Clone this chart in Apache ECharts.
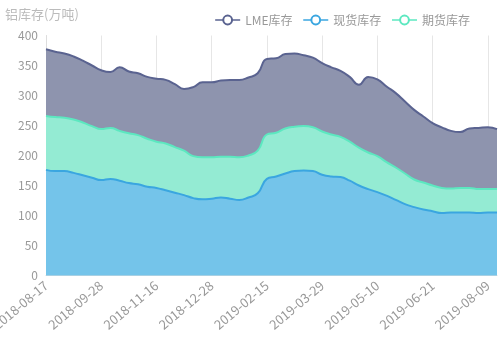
<!DOCTYPE html>
<html>
<head>
<meta charset="utf-8">
<script src="https://cdn.jsdelivr.net/npm/echarts@6/dist/echarts.min.js"></script>
<style>html,body{margin:0;padding:0;background:#fff}#c{width:500px;height:341px}</style>
</head>
<body>
<div id="c"></div>
<script>
var dates = ['2018-08-17','2018-08-24','2018-08-31','2018-09-07','2018-09-14','2018-09-21','2018-09-28','2018-10-12','2018-10-19','2018-10-26','2018-11-02','2018-11-09','2018-11-16','2018-11-23','2018-11-30','2018-12-07','2018-12-14','2018-12-21','2018-12-28','2019-01-04','2019-01-11','2019-01-18','2019-01-25','2019-02-01','2019-02-15','2019-02-22','2019-03-01','2019-03-08','2019-03-15','2019-03-22','2019-03-29','2019-04-04','2019-04-12','2019-04-19','2019-04-26','2019-04-30','2019-05-10','2019-05-17','2019-05-24','2019-05-31','2019-06-06','2019-06-14','2019-06-21','2019-06-28','2019-07-05','2019-07-12','2019-07-19','2019-07-26','2019-08-09','2019-08-16'];
var spotStock = [176,174,174,171,167,163,159,161,158,154,152,148,146,142,138,134,129,127,128,130,128,126,130,137,161,165,170,174,175,174,168,165,164,158,150,144,139,133,126,119,114,110,107,104,105,105,105,104,105,105];
var futuresStock = [90,90,89,89,88,86,85,85,83,83,82,80,77,78,76,74,70,70,69,68,70,71,70,71,74,73,75,74,74,73,72,70,67,65,63,61,60,56,54,51,46,45,43,42,40,41,41,40,39,39];
var lmeStock = [111,109,107,105,103,101,98,93,106,103,103,103,105,106,105,103,115,125,125,127,128,129,130,129,126,124,124,122,118,116,114,112,110,108,105,126,128,126,124,120,116,110,104,101,96,93,99,102,103,100];
var yTicks = [0,50,100,150,200,250,300,350,400];

var chart = echarts.init(document.getElementById('c'), null, {renderer:'canvas'});
var font = '"Noto Sans CJK SC", "Noto Sans", sans-serif';
function mk(name, data, line, fill){
  return {
    name: name, type: 'line', stack: 'total', smooth: true,
    symbol: 'emptyCircle', symbolSize: 6, showSymbol: false,
    data: data,
    lineStyle: {color: line, width: 2},
    itemStyle: {color: line},
    areaStyle: {color: fill, opacity: 1}
  };
}
chart.setOption({
  animation: false,
  textStyle: {fontFamily: font},
  legend: {
    data: ['LME库存','现货库存','期货库存'],
    right: 25, top: 9, itemGap: 10, itemWidth: 25, itemHeight: 11,
    itemStyle: {borderWidth: 1.2},
    lineStyle: {width: 1.5},
    textStyle: {color: '#999', fontSize: 12, fontFamily: font}
  },
  grid: {left: 46, right: 3, top: 35.5, bottom: 65.5, containLabel: false, outerBoundsMode: 'none'},
  xAxis: {
    type: 'category', boundaryGap: false, data: dates,
    axisLine: {lineStyle: {color: '#ddd'}},
    axisTick: {show: false},
    axisLabel: {interval: 5, rotate: 40, color: '#999', fontSize: 13, margin: 8},
    splitLine: {show: true, interval: 5, lineStyle: {color: '#e6e6e6'}}
  },
  yAxis: {
    type: 'value', min: yTicks[0], max: yTicks[yTicks.length-1], interval: 50,
    name: '铝库存(万吨)',
    nameTextStyle: {color: '#bbb', fontSize: 13, padding: [0, 8, 0, 0]},
    axisLine: {show: true, lineStyle: {color: '#ddd'}},
    axisTick: {show: false},
    axisLabel: {color: '#999', fontSize: 12},
    splitLine: {show: false}
  },
  series: [
    mk('现货库存', spotStock, '#3aa6e0', '#74c4ea'),
    mk('期货库存', futuresStock, '#5ce8c0', '#94ebd3'),
    mk('LME库存', lmeStock, '#5a6390', '#8e94ae')
  ]
});
</script>
</body>
</html>
